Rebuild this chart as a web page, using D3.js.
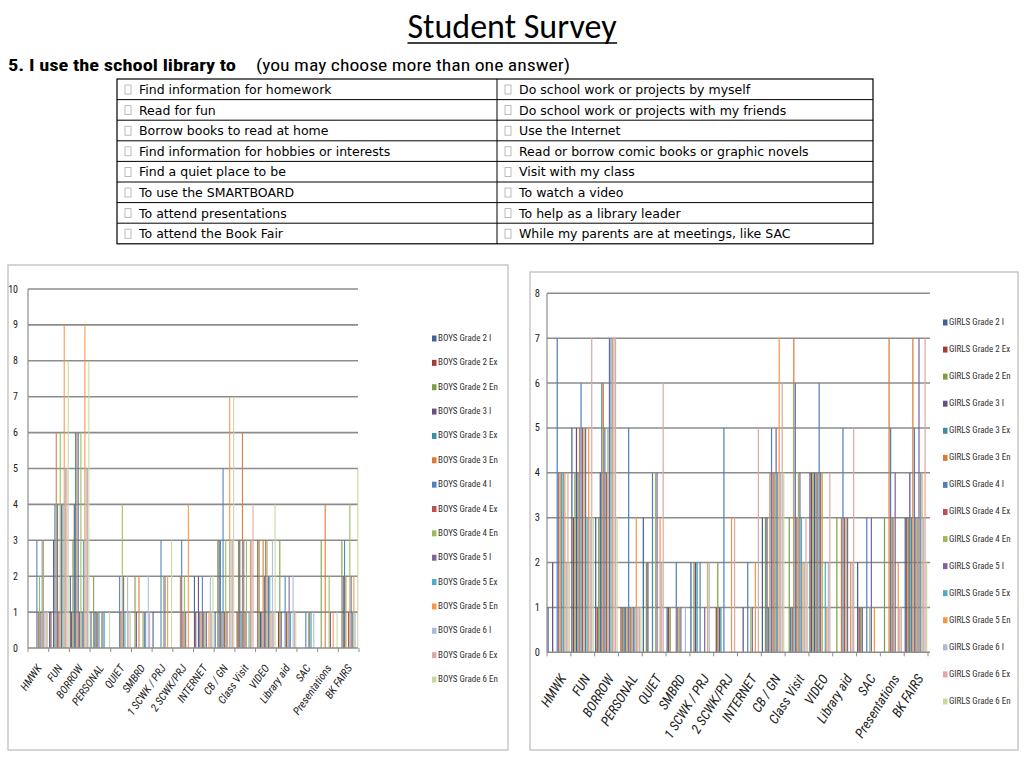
<!DOCTYPE html>
<html>
<head>
<meta charset="utf-8">
<script src="https://cdn.jsdelivr.net/npm/d3@7"></script>
<style>
body{margin:0;background:#fff}
svg{display:block}
</style>
</head>
<body>
<svg id="page" width="1024" height="768"></svg>
<script>
//categories on the x axis (same for both charts)
const categories = ['HMWK','FUN','BORROW','PERSONAL','QUIET','SMBRD','1 SCWK / PRJ','2 SCWK/PRJ',
	'INTERNET','CB / GN','Class Visit','VIDEO','Library aid','SAC','Presentations','BK FAIRS'];

//15 series, I / Ex / En per grade
const grades = ['Grade 2 I','Grade 2 Ex','Grade 2 En','Grade 3 I','Grade 3 Ex','Grade 3 En',
	'Grade 4 I','Grade 4 Ex','Grade 4 En','Grade 5 I','Grade 5 Ex','Grade 5 En',
	'Grade 6 I','Grade 6 Ex','Grade 6 En'];

//one row per category, one value per series
const boysValues = [
	[0,0,0,0,0,0,3,1,2,1,3,3,1,1,1],   //HMWK
	[1,1,0,3,4,6,4,1,6,4,4,9,5,5,8],   //FUN
	[2,1,3,4,6,6,6,1,6,1,3,9,5,5,8],   //BORROW
	[1,0,2,1,1,1,1,0,1,1,1,0,0,0,1],   //PERSONAL
	[0,0,0,0,0,0,2,1,4,2,1,0,2,1,1],   //QUIET
	[0,0,2,1,0,2,0,0,1,1,1,0,2,1,0],   //SMBRD
	[1,0,0,0,0,0,3,0,2,2,0,2,0,0,3],   //1 SCWK
	[0,0,0,0,0,2,3,1,2,1,0,4,0,0,0],   //2 SCWK
	[2,1,0,2,1,1,2,1,1,1,0,1,2,1,2],   //INTERNET
	[1,0,3,3,3,1,5,1,3,1,0,7,3,3,7],   //CB / GN
	[0,1,3,3,1,6,3,1,3,0,1,3,3,4,0],   //Class Visit
	[0,3,3,1,1,3,2,3,3,2,2,1,3,1,4],   //VIDEO
	[0,1,3,1,0,0,2,1,1,2,1,0,2,1,1],   //Library aid
	[0,0,0,0,0,0,1,0,1,1,1,0,1,0,0],   //SAC
	[0,0,3,0,0,4,0,0,2,1,0,1,0,0,1],   //Presentations
	[0,0,3,2,3,2,0,1,4,2,1,2,1,0,5]    //BK FAIRS
];
const girlsValues = [
	[1,0,0,2,0,0,7,4,4,4,4,4,2,4,2],
	[5,3,4,5,4,5,6,5,5,5,3,5,3,7,3],
	[3,1,3,4,6,6,5,4,5,7,7,7,7,7,3],
	[0,1,1,1,1,1,5,1,1,1,1,3,1,1,1],
	[3,0,2,2,0,0,4,0,4,4,0,3,2,6,0],
	[1,1,1,0,0,0,2,1,1,1,0,0,1,0,0],
	[2,0,2,2,2,0,2,0,0,1,0,2,2,0,0],
	[0,1,2,1,1,0,5,0,0,0,0,3,0,3,0],
	[0,0,0,1,0,0,2,0,1,1,0,2,0,5,0],
	[3,0,3,3,1,4,5,4,4,5,4,7,4,6,4],
	[0,0,3,1,1,7,6,3,4,4,3,2,2,3,2],
	[4,4,4,4,4,4,6,4,4,0,2,1,2,4,0],
	[0,0,3,0,0,3,5,3,3,3,0,2,2,5,0],
	[2,1,1,1,0,0,3,0,1,3,0,1,0,0,0],
	[0,0,3,0,0,7,5,3,3,4,0,2,1,1,0],
	[3,3,3,4,3,7,5,3,3,7,4,4,3,7,2]
];

//answer list in the table
const tableLeft = ['Find information for homework','Read for fun','Borrow books to read at home',
	'Find information for hobbies or interests','Find a quiet place to be','To use the SMARTBOARD',
	'To attend presentations','To attend the Book Fair'];
const tableRight = ['Do school work or projects by myself','Do school work or projects with my friends',
	'Use the Internet','Read or borrow comic books or graphic novels','Visit with my class',
	'To watch a video','To help as a library leader','While my parents are at meetings, like SAC'];

const seriesColors = ['#3c6496','#a33b38','#7e9d45','#654f85','#3a8ea5','#d97b35',
	'#4f81bd','#c0504d','#9bbb59','#8064a2','#4bacc6','#f79646',
	'#a9bcdb','#dda8a6','#c6d9a0'];

const svg = d3.select('#page');
const narrow = '"Liberation Sans Narrow","Roboto Condensed","Liberation Sans",sans-serif';

//title, underlined
const title = svg.append('text')
	.attr('x',512).attr('y',38)
	.attr('text-anchor','middle')
	.style('font-family','Carlito,Lato,sans-serif')
	.style('font-size','34px')
	.style('fill','#000')
	.text('Student Survey');
const tb = title.node().getBBox();
svg.append('line')
	.attr('x1',tb.x).attr('x2',tb.x+tb.width).attr('y1',43).attr('y2',43)
	.style('stroke','#000').style('stroke-width',1.5);

//question line (slide text is stretched sideways, so fit it to its width)
svg.append('text').attr('x',8).attr('y',71)
	.attr('textLength',228).attr('lengthAdjust','spacingAndGlyphs')
	.style('font-family',narrow).style('font-weight','bold').style('font-size','16px')
	.text('5. I use the school library to');
svg.append('text').attr('x',256).attr('y',71)
	.attr('textLength',314).attr('lengthAdjust','spacingAndGlyphs')
	.style('font-family',narrow).style('font-size','16.5px')
	.text('(you may choose more than one answer)');

//table
const tx = 117, tw = 756, tyTop = 79, rowH = 20.6, colSplit = 497;
const rows = d3.range(tableLeft.length);
const table = svg.append('g');
table.append('rect')
	.attr('x',tx).attr('y',tyTop).attr('width',tw).attr('height',rowH*rows.length)
	.style('fill','none').style('stroke','#000').style('stroke-width',1.2);
table.selectAll('.hl').data(rows.slice(1)).join('line')
	.attr('x1',tx).attr('x2',tx+tw)
	.attr('y1',function(d){return tyTop+d*rowH})
	.attr('y2',function(d){return tyTop+d*rowH})
	.style('stroke','#000').style('stroke-width',1);
table.append('line')
	.attr('x1',colSplit).attr('x2',colSplit).attr('y1',tyTop).attr('y2',tyTop+rowH*rows.length)
	.style('stroke','#000').style('stroke-width',1);
[[tx,tableLeft],[colSplit,tableRight]].forEach(function(col){
	const g = table.append('g');
	g.selectAll('rect').data(col[1]).join('rect')
		.attr('x',col[0]+8)
		.attr('y',function(d,i){return tyTop+i*rowH+6})
		.attr('width',6).attr('height',9)
		.style('fill','none').style('stroke','#aaa').style('stroke-width',0.8);
	g.selectAll('text').data(col[1]).join('text')
		.attr('x',col[0]+22)
		.attr('y',function(d,i){return tyTop+i*rowH+15})
		.style('font-family','"DejaVu Sans",Verdana,sans-serif')
		.style('font-size','12.5px')
		.text(function(d){return d});
});

function drawChart(o){
	const g = svg.append('g');
	//outer frame of the pasted chart
	g.append('rect')
		.attr('x',o.frame[0]).attr('y',o.frame[1]).attr('width',o.frame[2]).attr('height',o.frame[3])
		.style('fill','#fff').style('stroke','#c8c8c8').style('stroke-width',1.5);

	const y = d3.scaleLinear().domain([0,o.max]).range([o.bottom,o.top]);
	const x0 = d3.scaleBand().domain(categories).range([o.left,o.right]).paddingInner(0).paddingOuter(0);
	const x1 = d3.scaleBand().domain(grades).range([0,x0.bandwidth()]).paddingOuter(0.3);

	//gridlines
	g.selectAll('.grid').data(d3.range(1,o.max+1)).join('line')
		.attr('x1',o.left).attr('x2',o.gridEnd)
		.attr('y1',function(d){return y(d)}).attr('y2',function(d){return y(d)})
		.style('stroke','#8c8c8c').style('stroke-width',1.6);

	//bars
	categories.forEach(function(cat,ci){
		g.append('g').selectAll('rect')
			.data(o.values[ci].map(function(v,si){return {v:v,s:grades[si],i:si}}).filter(function(d){return d.v>0}))
			.join('rect')
			.attr('x',function(d){return x0(cat)+x1(d.s)})
			.attr('y',function(d){return y(d.v)})
			.attr('width',x1.bandwidth()*0.8)
			.attr('height',function(d){return y(0)-y(d.v)})
			.style('fill',function(d){return seriesColors[d.i]});
	});

	//axes
	g.append('line').attr('x1',o.left).attr('x2',o.left).attr('y1',o.top).attr('y2',o.bottom)
		.style('stroke','#8c8c8c').style('stroke-width',1.2);
	g.append('line').attr('x1',o.left).attr('x2',o.gridEnd).attr('y1',o.bottom).attr('y2',o.bottom)
		.style('stroke','#8c8c8c').style('stroke-width',1.6);
	g.selectAll('.xt').data(d3.range(categories.length+1)).join('line')
		.attr('x1',function(d){return o.left+d*x0.bandwidth()})
		.attr('x2',function(d){return o.left+d*x0.bandwidth()})
		.attr('y1',o.bottom).attr('y2',o.bottom+4)
		.style('stroke','#8c8c8c').style('stroke-width',1);
	g.selectAll('.yl').data(d3.range(0,o.max+1)).join('text')
		.attr('x',o.left-o.yLabelGap).attr('y',function(d){return y(d)+3.5})
		.attr('text-anchor','end')
		.style('font-family',narrow).style('font-size',o.tickFont+'px').style('fill','#222')
		.text(function(d){return d});
	g.selectAll('.xl').data(categories).join('text')
		.attr('transform',function(d){
			return 'translate('+(x0(d)+x0.bandwidth()/2+o.labelDx)+','+(o.bottom+o.labelDy)+') rotate('+o.angle+')'})
		.attr('text-anchor','end')
		.style('font-family',narrow).style('font-style','italic')
		.style('font-size',o.labelFont+'px').style('fill','#222')
		.text(function(d){return d});

	//legend
	grades.forEach(function(gr,i){
		const ly = o.legendY + i*o.legendStep;
		g.append('rect').attr('x',o.legendX).attr('y',ly-5.5).attr('width',4.5).attr('height',6)
			.style('fill',seriesColors[i]);
		g.append('text').attr('x',o.legendX+6).attr('y',ly)
			.style('font-family',narrow).style('font-size',o.legendFont+'px').style('fill','#333')
			.text(o.prefix+' '+gr);
	});
}

drawChart({
	frame:[8,265,500,485], values:boysValues, prefix:'BOYS', max:10,
	left:28, right:359, gridEnd:358, top:289, bottom:648,
	yLabelGap:10, tickFont:10, labelFont:11, angle:-55, labelDx:4, labelDy:20,
	legendX:432, legendY:341, legendStep:24.36, legendFont:9
});
drawChart({
	frame:[530,272,488,478], values:girlsValues, prefix:'GIRLS', max:8,
	left:547, right:928, gridEnd:930, top:293.3, bottom:652.3,
	yLabelGap:7, tickFont:10.5, labelFont:13.5, angle:-58, labelDx:8, labelDy:26,
	legendX:943, legendY:325, legendStep:27.07, legendFont:9
});
</script>
</body>
</html>
